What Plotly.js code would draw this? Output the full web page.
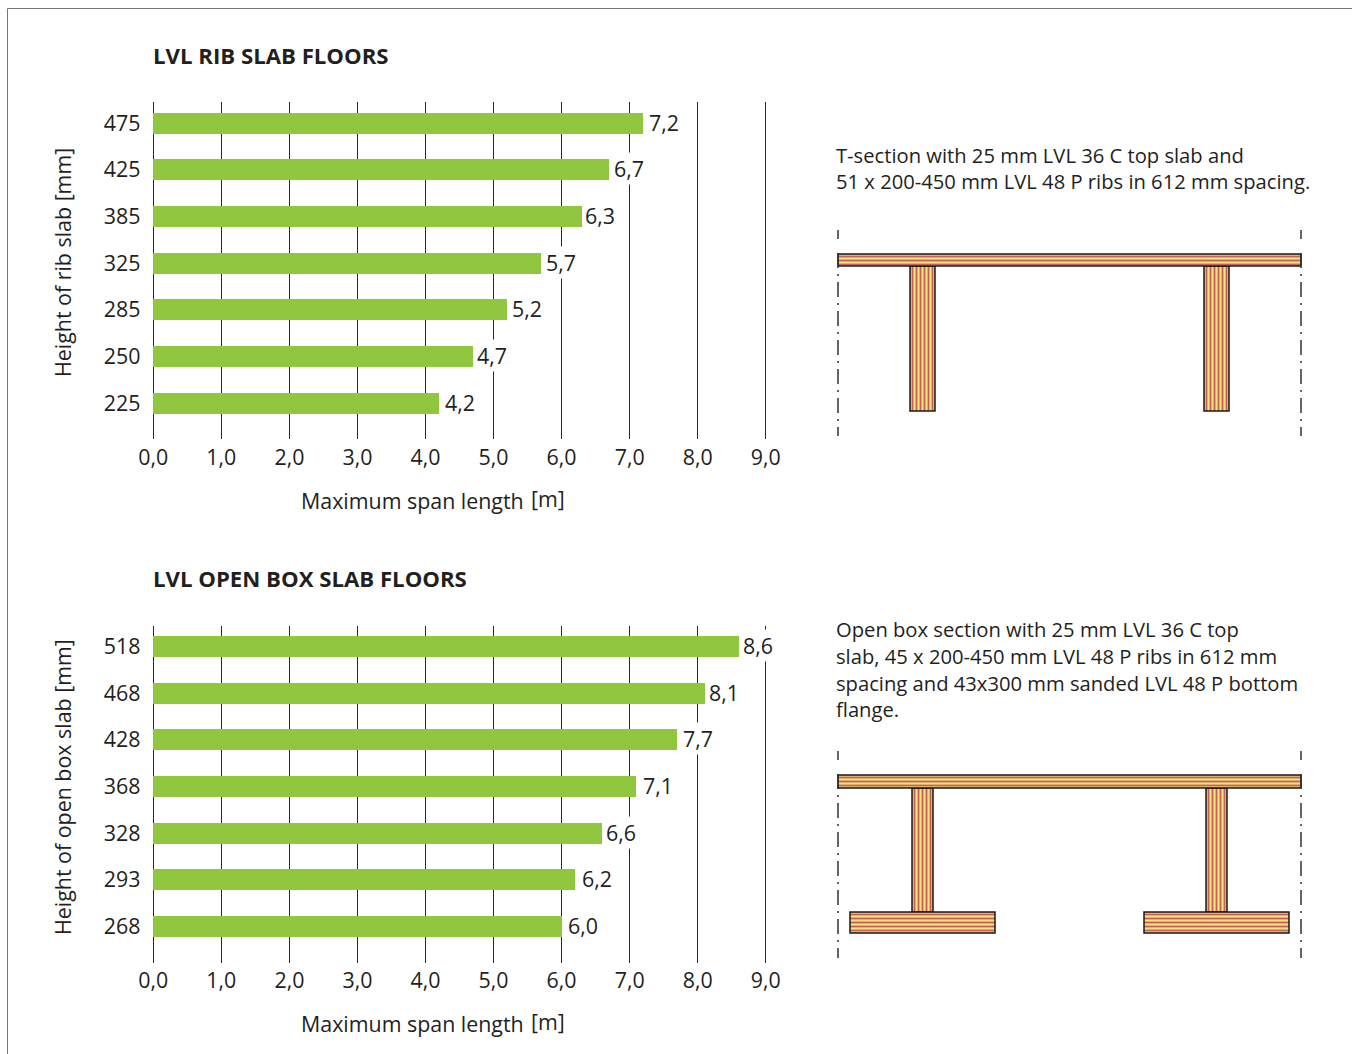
<!DOCTYPE html>
<html><head><meta charset="utf-8">
<script src="https://cdn.plot.ly/plotly-3.0.1.min.js"></script>
<style>html,body{margin:0;padding:0;background:#fff;overflow:hidden}</style>
</head><body><div id="chart" style="width:1352px;height:1054px"></div>
<script>
const ribHeights=['225','250','285','325','385','425','475'];
const ribSpans=[4.2,4.7,5.2,5.7,6.3,6.7,7.2];
const ribLabels=['4,2','4,7','5,2','5,7','6,3','6,7','7,2'];
const boxHeights=['268','293','328','368','428','468','518'];
const boxSpans=[6.0,6.2,6.6,7.1,7.7,8.1,8.6];
const boxLabels=['6,0','6,2','6,6','7,1','7,7','8,1','8,6'];
const xTickVals=[0,1,2,3,4,5,6,7,8,9];
const xTickText=['0,0','1,0','2,0','3,0','4,0','5,0','6,0','7,0','8,0','9,0'];
const FONT='"Open Sans", sans-serif', INK='#231f20', GREEN='#90c73e';
const W=1352,H=1054;
const fs=21.4;
const unit=68.05, x0px=153.3, pad=0.1;
const ribLabelNudge=[4,2,3,3,1,3,4];
const boxLabelNudge=[4,5,2,5,4,2,2];
function xa(anchor,standoff){return {domain:[(x0px-pad*unit)/W,(x0px+9.1*unit)/W],range:[-pad,9.1],anchor:anchor,tickmode:'array',tickvals:xTickVals,ticktext:xTickText,
  showgrid:true,gridcolor:'#2a2627',gridwidth:1,zeroline:false,showline:false,ticks:'',ticklen:0,ticklabelstandoff:standoff,tickfont:{family:FONT,size:fs,color:INK}};}
function ya(anchor,top,bot){return {domain:[1-bot/H,1-top/H],range:[-0.771,6.45],type:'category',anchor:anchor,categoryorder:'trace',
  showgrid:false,zeroline:false,showline:false,ticks:'',ticklabelstandoff:5,tickfont:{family:FONT,size:fs,color:INK}};}
const data=[
 {type:'bar',orientation:'h',x:ribSpans,y:ribHeights,xaxis:'x',yaxis:'y',width:0.45,marker:{color:GREEN},hoverinfo:'x+y'},
 {type:'bar',orientation:'h',x:boxSpans,y:boxHeights,xaxis:'x2',yaxis:'y2',width:0.45,marker:{color:GREEN},hoverinfo:'x+y'}
];
const annotations=[];
function label(xr,yr,x,i,t,nudge){annotations.push({xref:xr,yref:yr,x:x,y:i,text:t,showarrow:false,xanchor:'left',xshift:nudge,yshift:1,bgcolor:'#fff',borderpad:1,font:{family:FONT,size:fs,color:INK}});}
ribSpans.forEach((v,i)=>label('x','y',v,i,ribLabels[i],ribLabelNudge[i]));
boxSpans.forEach((v,i)=>label('x2','y2',v,i,boxLabels[i],boxLabelNudge[i]));
function px(x,y,t,o){annotations.push(Object.assign({xref:'x3',yref:'y3',x:x,y:y,text:t,showarrow:false,xanchor:'left',yanchor:'middle',align:'left',font:{family:FONT,size:20.2,color:INK}},o||{}));}
px(151,55,'<b>LVL RIB SLAB FLOORS</b>',{font:{family:FONT,size:22.2,color:INK}});
px(151,578,'<b>LVL OPEN BOX SLAB FLOORS</b>',{font:{family:FONT,size:22.2,color:INK}});
const axisFont={font:{family:FONT,size:21.4,color:INK}};
px(299,500,'Maximum span length',axisFont);
px(299,1023,'Maximum span length',axisFont);
px(529,498,'[m]',axisFont);
px(529,1021,'[m]',axisFont);
px(62,263,'Height of rib slab [mm]',Object.assign({xanchor:'center',textangle:-90},axisFont));
px(62,787,'Height of open box slab [mm]',Object.assign({xanchor:'center',textangle:-90},axisFont));
px(834,155,'T-section with 25 mm LVL 36 C top slab and');
px(834,181,'51 x 200-450 mm LVL 48 P ribs in 612 mm spacing.');
px(834,629,'Open box section with 25 mm LVL 36 C top');
px(834,656,'slab, 45 x 200-450 mm LVL 48 P ribs in 612 mm');
px(834,683,'spacing and 43x300 mm sanded LVL 48 P bottom');
px(834,709,'flange.');

const shapes=[];
const T='#e2ae70',Y='#f8e47a',R='#c4605c',K='#1c1a1a';
function L(x0,y0,x1,y1,c,w,d){shapes.push({type:'line',xref:'x3',yref:'y3',x0,y0,x1,y1,line:{color:c,width:w,dash:d||'solid'}});}
function plank(x0,y0,x1,y1,horizontal){
  shapes.push({type:'rect',xref:'x3',yref:'y3',x0,y0,x1,y1,fillcolor:T,line:{width:0}});
  const n=horizontal?y1-y0:x1-x0, pat=[R,Y];
  for(let s=2.5,i=0;s<n-1;s+=2,i++){
    const c=pat[i%2];
    if(horizontal)L(x0,y0+s,x1,y0+s,c,1);else L(x0+s,y0,x0+s,y1,c,1);
  }
  shapes.push({type:'rect',xref:'x3',yref:'y3',x0,y0,x1,y1,fillcolor:'rgba(0,0,0,0)',line:{color:K,width:1.5}});
}
plank(910,266,935,411,false);plank(1204,266,1229,411,false);plank(838,254,1301,266,true);
plank(912,788,933,912,false);plank(1206,788,1227,912,false);plank(838,775,1301,788,true);
plank(850,912,995,933,true);plank(1144,912,1289,933,true);
const DASH='15px,6px,2px,6px',DK='#333031';
[838,1301].forEach(x=>{
  L(x,230,x,239,DK,1.5);L(x,253,x,436,DK,1.5,DASH);
  L(x,751,x,760,DK,1.5);L(x,774,x,958,DK,1.5,DASH);
});
shapes.push({type:'path',xref:'x3',yref:'y3',path:'M 7.5 1054 L 7.5 8.5 L 1352 8.5',line:{color:'#777',width:1}});

const layout={width:W,height:H,margin:{l:0,r:0,t:0,b:0},paper_bgcolor:'#fff',plot_bgcolor:'rgba(0,0,0,0)',showlegend:false,bargap:0,
 xaxis:xa('y',4),yaxis:ya('x',102,439),xaxis2:xa('y2',3),yaxis2:ya('x2',625.5,962.5),
 xaxis3:{domain:[0,1],range:[0,W],visible:false,fixedrange:true,anchor:'y3'},
 yaxis3:{domain:[0,1],range:[H,0],visible:false,fixedrange:true,anchor:'x3'},
 annotations,shapes};
data.push({type:'scatter',x:[0],y:[0],xaxis:'x3',yaxis:'y3',mode:'markers',marker:{opacity:0},hoverinfo:'skip'});
Plotly.newPlot('chart',data,layout,{displayModeBar:false,staticPlot:true});
</script></body></html>
